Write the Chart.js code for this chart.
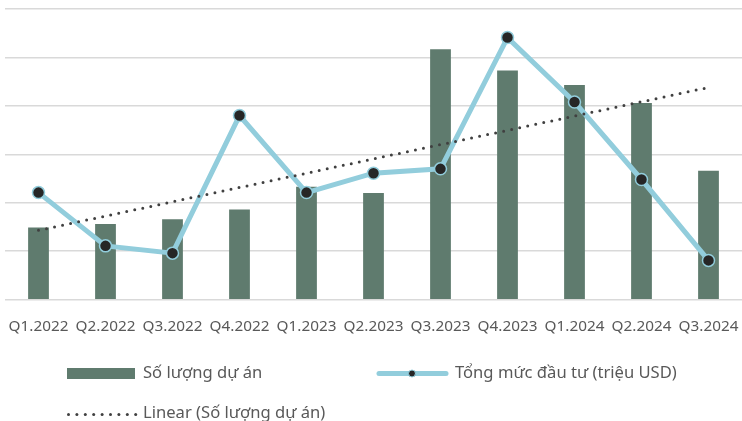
<!DOCTYPE html>
<html>
<head>
<meta charset="utf-8">
<script src="https://cdn.jsdelivr.net/npm/chart.js@4.4.1/dist/chart.umd.min.js"></script>
<style>
  html, body { margin: 0; padding: 0; background: #ffffff; }
  #wrap { width: 742px; height: 421px; position: relative; }
</style>
</head>
<body>
<div id="wrap"><canvas id="c" width="742" height="421"></canvas></div>
<script>
// ---- Data ----
const categories = ["Q1.2022","Q2.2022","Q3.2022","Q4.2022","Q1.2023","Q2.2023","Q3.2023","Q4.2023","Q1.2024","Q2.2024","Q3.2024"];
const projectCounts = [14.9, 15.6, 16.6, 18.6, 23.3, 22.0, 51.7, 47.3, 44.3, 40.6, 26.6];
const investmentTotal = [22.1, 11.1, 9.6, 38.0, 22.1, 26.1, 27.0, 54.1, 40.8, 24.8, 8.1];
const trendEnds = [14.3, null, null, null, null, null, null, null, null, null, 43.8];
const gridTicks = [0, 10, 20, 30, 40, 50, 60];
const seriesLabels = ["Số lượng dự án", "Tổng mức đầu tư (triệu USD)", "Linear (Số lượng dự án)"];

const FONT = "'Noto Sans', sans-serif";
const TEXT = "#595959";
const BAR = "#5f7b6e";
const LINE = "#92cddc";

const legendPlugin = {
  id: 'customLegend',
  afterDraw(chart) {
    const ctx = chart.ctx;
    ctx.save();
    ctx.font = "16.6px " + FONT;
    ctx.textBaseline = 'middle';
    ctx.textAlign = 'left';
    // item 1: bar swatch
    ctx.fillStyle = BAR;
    ctx.fillRect(67, 368, 68, 11);
    ctx.fillStyle = TEXT;
    ctx.fillText(chart.data.datasets[0].label, 143, 373);
    // item 2: line swatch with marker
    ctx.strokeStyle = LINE;
    ctx.lineWidth = 5;
    ctx.lineCap = 'round';
    ctx.beginPath(); ctx.moveTo(379, 373.5); ctx.lineTo(446, 373.5); ctx.stroke();
    ctx.beginPath(); ctx.arc(412, 373.5, 3.5, 0, Math.PI*2);
    ctx.fillStyle = '#262626'; ctx.fill();
    ctx.lineWidth = 1; ctx.strokeStyle = LINE; ctx.stroke();
    ctx.fillStyle = TEXT;
    ctx.fillText(chart.data.datasets[1].label, 455, 373);
    // item 3: dotted swatch
    ctx.fillStyle = '#404040';
    for (let i = 0; i < 9; i++) {
      ctx.beginPath(); ctx.arc(68.5 + i * 8.4, 414.5, 1.5, 0, Math.PI*2); ctx.fill();
    }
    ctx.fillStyle = TEXT;
    ctx.fillText(chart.data.datasets[2].label, 143, 413);
    ctx.restore();
  }
};

new Chart(document.getElementById('c'), {
  data: {
    labels: categories,
    datasets: [
      {
        type: 'bar',
        label: seriesLabels[0],
        data: projectCounts,
        backgroundColor: BAR,
        barPercentage: 0.31,
        categoryPercentage: 1.0,
        order: 3
      },
      {
        type: 'line',
        label: seriesLabels[1],
        data: investmentTotal,
        borderColor: LINE,
        borderWidth: 5,
        pointRadius: 6,
        pointBackgroundColor: '#262626',
        pointBorderColor: LINE,
        pointBorderWidth: 1.5,
        tension: 0,
        clip: false,
        order: 2
      },
      {
        type: 'line',
        label: seriesLabels[2],
        data: trendEnds,
        spanGaps: true,
        borderColor: '#404040',
        borderWidth: 3,
        borderDash: [0, 8.2],
        borderCapStyle: 'round',
        pointRadius: 0,
        clip: false,
        order: 1
      }
    ]
  },
  options: {
    responsive: false,
    animation: false,
    layout: { autoPadding: false, padding: { left: 5, right: 0, top: 9, bottom: 67 } },
    plugins: { legend: { display: false }, tooltip: { enabled: false } },
    scales: {
      x: {
        grid: { display: false, drawTicks: false },
        border: { display: false },
        ticks: { color: TEXT, font: { family: FONT, size: 15.3 }, padding: 18, maxRotation: 0, autoSkip: false },
        afterFit(scale) { scale.paddingLeft = 0; scale.paddingRight = 0; }
      },
      y: {
        min: gridTicks[0],
        max: gridTicks[gridTicks.length - 1],
        afterBuildTicks(axis) { axis.ticks = gridTicks.map(v => ({ value: v })); },
        ticks: { display: false },
        grid: { color: '#d9d9d9', lineWidth: 1.5, drawTicks: false },
        border: { display: false }
      }
    }
  },
  plugins: [legendPlugin]
});
</script>
</body>
</html>
